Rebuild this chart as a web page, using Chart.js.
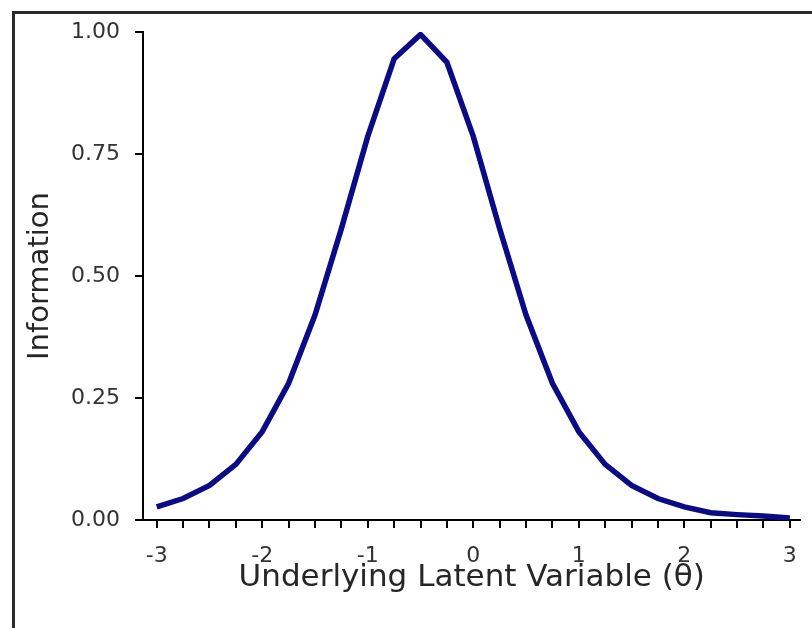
<!DOCTYPE html>
<html>
<head>
<meta charset="utf-8">
<script src="https://cdn.jsdelivr.net/npm/chart.js@4/dist/chart.umd.min.js"></script>
<style>
  html, body { margin: 0; padding: 0; background: #fff; }
  #wrap { position: relative; width: 812px; height: 628px; overflow: hidden; }
  #frame { position: absolute; left: 12px; top: 11px; width: 820px; height: 640px;
           border-left: 3px solid #2a2a2a; border-top: 3px solid #2a2a2a; }
  canvas { position: absolute; left: 0; top: 0; }
</style>
</head>
<body>
<div id="wrap">
  <div id="frame"></div>
  <canvas id="infoChart" width="812" height="628"></canvas>
</div>
<script>
// theta values of the plotted points
const theta = [-3, -2.75, -2.5, -2.25, -2, -1.75, -1.5, -1.25, -1, -0.75, -0.5, -0.25,
               0, 0.25, 0.5, 0.75, 1, 1.25, 1.5, 1.75, 2, 2.25, 2.5, 2.75, 3];
// item information
const information = [0.027, 0.044, 0.071, 0.114, 0.181, 0.280, 0.420, 0.597, 0.786, 0.945, 0.995, 0.938,
                     0.786, 0.597, 0.420, 0.280, 0.181, 0.114, 0.071, 0.044, 0.027, 0.015, 0.011, 0.008, 0.004];
// x tick marks (labels only on whole numbers)
const xTickMarks = [-3, -2.75, -2.5, -2.25, -2, -1.75, -1.5, -1.25, -1, -0.75, -0.5, -0.25,
                    0, 0.25, 0.5, 0.75, 1, 1.25, 1.5, 1.75, 2, 2.25, 2.5, 2.75, 3];
const yTicks = [0, 0.25, 0.5, 0.75, 1];

const points = theta.map((t, i) => ({ x: t, y: information[i] }));

const ctx = document.getElementById('infoChart').getContext('2d');
new Chart(ctx, {
    type: 'line',
    data: {
        datasets: [
            {
                label: 'Information',
                data: points,
                borderColor: '#0b0b85',
                borderWidth: 5.5,
                pointRadius: 0,
                tension: 0,
                fill: false
            }
        ]
    },
    options: {
        responsive: false,
        animation: false,
        layout: { padding: { left: 0, top: 32, right: 10, bottom: 8 } },
        plugins: {
            legend: { display: false },
            tooltip: { enabled: false }
        },
        scales: {
            x: {
                type: 'linear',
                min: -3.13,
                max: 3.1,
                afterBuildTicks: scale => {
                    scale.ticks = xTickMarks.map(v => ({ value: v }));
                },
                afterFit: scale => { scale.height = 100; },
                border: { display: true, color: '#000', width: 2 },
                grid: { drawOnChartArea: false, drawTicks: true, tickLength: 8, color: '#000', lineWidth: 2 },
                ticks: {
                    autoSkip: false,
                    maxRotation: 0,
                    padding: 15,
                    color: '#333',
                    font: { family: 'DejaVu Sans', size: 22 },
                    callback: v => Number.isInteger(v) ? String(v) : ''
                },
                title: {
                    display: true,
                    text: 'Underlying Latent Variable (\u03B8)',
                    color: '#262626',
                    font: { family: 'DejaVu Sans', size: 31 },
                    padding: { top: 0, bottom: 23 }
                }
            },
            y: {
                min: 0,
                max: 1,
                afterBuildTicks: scale => {
                    scale.ticks = yTicks.map(v => ({ value: v }));
                },
                afterFit: scale => { scale.width = 143; },
                border: { display: true, color: '#000', width: 2 },
                grid: { drawOnChartArea: false, drawTicks: true, tickLength: 8, color: '#000', lineWidth: 2 },
                ticks: {
                    padding: 15,
                    color: '#333',
                    font: { family: 'DejaVu Sans', size: 22 },
                    callback: v => v.toFixed(2)
                },
                title: {
                    display: true,
                    text: 'Information',
                    color: '#262626',
                    font: { family: 'DejaVu Sans', size: 29 },
                    padding: { top: 23, bottom: 0 }
                }
            }
        }
    }
});
</script>
</body>
</html>
